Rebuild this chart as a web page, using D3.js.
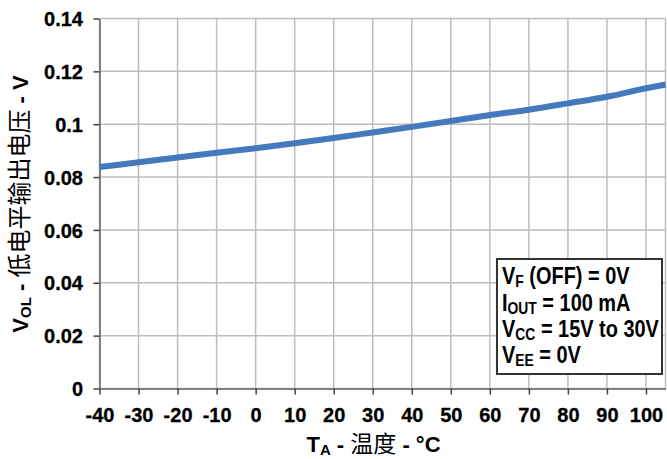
<!DOCTYPE html>
<html><head><meta charset="utf-8">
<script src="https://cdn.jsdelivr.net/npm/d3@7"></script>
<style>
html,body{margin:0;padding:0;background:#fff;}
svg{display:block;}
.lat{font-family:"Liberation Sans",Arial,sans-serif;font-weight:bold;}
.cjk{font-family:"Noto Sans CJK SC",sans-serif;font-weight:normal;}
</style>
</head><body>
<svg id="c" width="667" height="459"></svg>
<script>
const temps = [-40,-30,-20,-10,0,10,20,30,40,50,60,70,80,90,100,105];
const vol   = [0.0838,0.0856,0.0874,0.0892,0.0909,0.0928,0.0948,0.0969,0.0990,0.1012,0.1035,0.1055,0.1079,0.1104,0.1136,0.1150];
const xTicks = [-40,-30,-20,-10,0,10,20,30,40,50,60,70,80,90,100];
const xTickLabels = ["-40","-30","-20","-10","0","10","20","30","40","50","60","70","80","90","100"];
const yTicks = [0,0.02,0.04,0.06,0.08,0.1,0.12,0.14];
const yTickLabels = ["0","0.02","0.04","0.06","0.08","0.1","0.12","0.14"];
const legendLines = [
  [["V",""],["F","sub"],[" (OFF) = 0V",""]],
  [["I",""],["OUT","sub"],[" = 100 mA",""]],
  [["V",""],["CC","sub"],[" = 15V to 30V",""]],
  [["V",""],["EE","sub"],[" = 0V",""]]
];

const svg = d3.select("#c");
const L=99.5, R=665.5, T=18.5, B=388.5;
const x = d3.scaleLinear().domain([-40,105]).range([L,R]);
const y = d3.scaleLinear().domain([0,0.14]).range([B,T]);

// grid
const g = svg.append("g");
g.selectAll(".vg").data(xTicks.concat([105])).enter().append("line")
  .attr("x1",d=>x(d)).attr("x2",d=>x(d)).attr("y1",T).attr("y2",B)
  .attr("stroke","#bdbdbd").attr("stroke-width",1.5);
g.selectAll(".hg").data(yTicks).enter().append("line")
  .attr("x1",L).attr("x2",R).attr("y1",d=>y(d)).attr("y2",d=>y(d))
  .attr("stroke","#bdbdbd").attr("stroke-width",1.5);

// axes
const xa = svg.append("g").attr("transform",`translate(0,${B})`)
  .call(d3.axisBottom(x).tickValues(xTicks).tickSize(6).tickSizeOuter(0).tickFormat((d,i)=>xTickLabels[i]));
const ya = svg.append("g").attr("transform",`translate(${L},0)`)
  .call(d3.axisLeft(y).tickValues(yTicks).tickSize(6).tickSizeOuter(0).tickFormat((d,i)=>yTickLabels[i]));
[xa,ya].forEach(a=>{
  a.select(".domain").attr("stroke","#808080").attr("stroke-width",2);
  a.selectAll(".tick line").attr("stroke","#404040").attr("stroke-width",1.5);
  a.selectAll("text").attr("class","lat").attr("fill","#000").style("font-size","20px")
    .attr("stroke","#000").attr("stroke-width",0.3);
});
xa.selectAll("text").attr("dy","0").attr("y",33);
ya.selectAll("text").attr("x",-16.5).attr("dy","0.36em");

// line
svg.append("path").datum(temps.map((t,i)=>[t,vol[i]]))
  .attr("d",d3.line().x(d=>x(d[0])).y(d=>y(d[1])).curve(d3.curveMonotoneX))
  .attr("fill","none").attr("stroke","#4479bd").attr("stroke-width",6);

// legend
const lg = svg.append("g");
lg.append("rect").attr("x",497).attr("y",259).attr("width",165).attr("height",115)
  .attr("fill","#fff").attr("stroke","#333").attr("stroke-width",2);
const baselines=[284,311,337,363];
const texts = legendLines.map((parts,i)=>{
  const t = lg.append("text").attr("class","lat").attr("x",0).attr("y",0)
    .attr("fill","#000").style("font-size","23px");
  parts.forEach((p,j)=>{
    const ts = t.append("tspan").text(p[0]);
    if(p[1]==="sub"){ ts.style("font-size","16px").attr("dy",3); }
    else if(j>0){ ts.attr("dy",-3); }
  });
  return t;
});
const maxW = d3.max(texts, t=>t.node().getComputedTextLength());
const s = Math.min(1, 157/maxW);
texts.forEach((t,i)=>t.attr("transform",`translate(502,${baselines[i]}) scale(${s},1)`));

// x title
const xt = svg.append("text").attr("x",373.5).attr("y",452).attr("text-anchor","middle").attr("fill","#000");
xt.append("tspan").attr("class","lat").style("font-size","22px").text("T");
xt.append("tspan").attr("class","lat").style("font-size","15px").attr("dy",3).text("A");
xt.append("tspan").attr("class","lat").style("font-size","22px").attr("dy",-3).text(" - ");
xt.append("tspan").attr("class","cjk").style("font-size","23px").text("温度");
xt.append("tspan").attr("class","lat").style("font-size","22px").text(" - °C");

// y title
const yt = svg.append("text").attr("transform","translate(28,204) rotate(-90)").attr("text-anchor","middle").attr("fill","#000");
yt.append("tspan").attr("class","lat").style("font-size","22px").text("V");
yt.append("tspan").attr("class","lat").style("font-size","15px").attr("dy",3).text("OL");
yt.append("tspan").attr("class","lat").style("font-size","22px").attr("dy",-3).text(" - ");
yt.append("tspan").attr("class","cjk").style("font-size","24px").text("低电平输出电压");
yt.append("tspan").attr("class","lat").style("font-size","22px").text(" - V");
</script>
</body></html>
